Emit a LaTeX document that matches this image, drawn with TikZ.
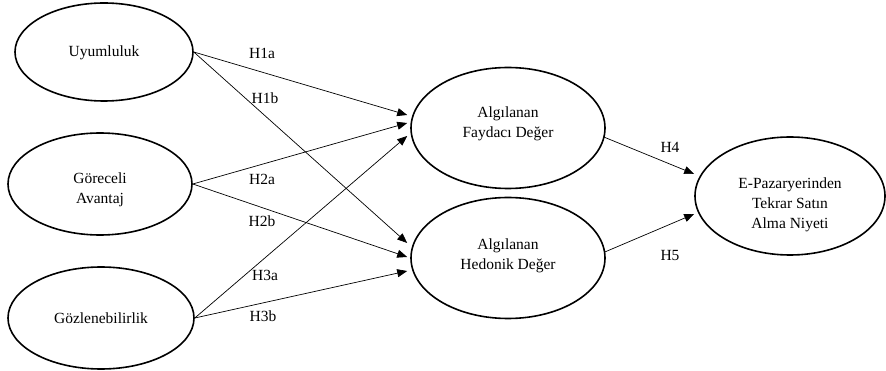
\documentclass[tikz,border=0pt]{standalone}
\usepackage{fontspec}
\setmainfont{Liberation Serif}
\usetikzlibrary{arrows.meta,shapes.geometric}
\begin{document}
\begin{tikzpicture}[x=1pt,y=-1pt,
  ell/.style={draw,ellipse,line width=1.6pt,inner sep=0pt},
  txt/.style={align=center,inner sep=0pt,font=\fontsize{15.5}{20}\selectfont},
  arr/.style={line width=0.7pt,-{Triangle[length=10pt,width=8pt]}},
  hlab/.style={font=\fontsize{15.5}{20}\selectfont,inner sep=0pt}]
\useasboundingbox (0,0) rectangle (886,371);
\node[ell,minimum width=178,minimum height=98] (u) at (104,52) {};
\node[ell,minimum width=184,minimum height=102] (g) at (100,184) {};
\node[ell,minimum width=186,minimum height=102] (z) at (101,318) {};
\node[ell,minimum width=194,minimum height=121] (f) at (508,128) {};
\node[ell,minimum width=194,minimum height=121] (h) at (508,258) {};
\node[ell,minimum width=190,minimum height=118] (e) at (790,196) {};
\node[txt] (ut) at (104,53) {Uyumluluk};
\node[txt] (gt) at (100,190) {Göreceli\\Avantaj};
\node[txt] (zt) at (101,318) {Gözlenebilirlik};
\node[txt] (ft) at (508,124) {Algılanan\\Faydacı Değer};
\node[txt] (ht) at (508,256) {Algılanan\\Hedonik Değer};
\node[txt] (et) at (790,205) {E-Pazaryerinden\\Tekrar Satın\\Alma Niyeti};
\draw[arr] (u.east) -- ([shift={(-3,-13)}]f.west);
\draw[arr] (g.east) -- ([shift={(-3,-5)}]f.west);
\draw[arr] (z.east) -- ([shift={(-3,8)}]f.west);
\draw[arr] (u.east) -- ([shift={(-3,-15)}]h.west);
\draw[arr] (g.east) -- ([shift={(-3,-1)}]h.west);
\draw[arr] (z.east) -- ([shift={(-3,13)}]h.west);
\draw[arr] ([shift={(-2,9)}]f.east) -- ([shift={(0,-22)}]e.west);
\draw[arr] ([shift={(-1,-6)}]h.east) -- ([shift={(0,18)}]e.west);
\node[hlab] (l1a) at (262,53) {H1a};
\node[hlab] (l1b) at (265,98) {H1b};
\node[hlab] (l2a) at (262,179) {H2a};
\node[hlab] (l2b) at (262,221) {H2b};
\node[hlab] (l3a) at (265,275) {H3a};
\node[hlab] (l3b) at (263,316) {H3b};
\node[hlab] (l4) at (670,147) {H4};
\node[hlab] (l5) at (670,256) {H5};
\end{tikzpicture}
\end{document}
